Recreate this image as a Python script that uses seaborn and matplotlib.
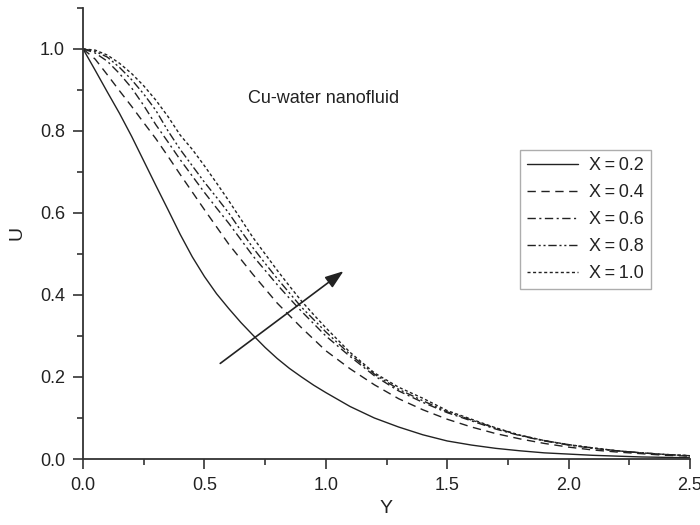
import matplotlib
matplotlib.use("Agg")
from matplotlib import pyplot as plt
from matplotlib.ticker import MultipleLocator, FormatStrFormatter
import seaborn as sns
import pandas as pd
import numpy as np

# ---------------------------------------------------------------
# data (U vs Y for several X)
# ---------------------------------------------------------------
y_vals = [0.0, 0.05, 0.1, 0.15, 0.2, 0.25, 0.3, 0.35, 0.4, 0.45, 0.5, 0.55,
          0.6, 0.65, 0.7, 0.75, 0.8, 0.85, 0.9, 0.95, 1.0, 1.1, 1.2,
          1.3, 1.4, 1.5, 1.6, 1.7, 1.8, 1.9, 2.0, 2.1, 2.2, 2.3, 2.4, 2.5]

u_x02 = [1.0, 0.948, 0.895, 0.843, 0.787, 0.727, 0.667, 0.608, 0.548, 0.493,
         0.445, 0.403, 0.367, 0.333, 0.302, 0.272, 0.245, 0.221, 0.2, 0.18,
         0.162, 0.128, 0.1, 0.078, 0.059, 0.044, 0.034, 0.026, 0.02, 0.015,
         0.012, 0.009, 0.007, 0.005, 0.004, 0.003]
u_x04 = [1.0, 0.975, 0.937, 0.898, 0.86, 0.82, 0.781, 0.738, 0.694, 0.651,
         0.608, 0.566, 0.524, 0.487, 0.45, 0.415, 0.38, 0.35, 0.32, 0.292,
         0.264, 0.22, 0.181, 0.147, 0.12, 0.097, 0.078, 0.062, 0.049, 0.038,
         0.029, 0.022, 0.017, 0.013, 0.009, 0.007]
u_x06 = [1.0, 0.99, 0.97, 0.94, 0.905, 0.862, 0.815, 0.773, 0.73, 0.69,
         0.65, 0.612, 0.575, 0.535, 0.495, 0.46, 0.425, 0.392, 0.36, 0.33,
         0.30, 0.25, 0.203, 0.166, 0.138, 0.113, 0.093, 0.073, 0.057, 0.044,
         0.034, 0.026, 0.02, 0.015, 0.011, 0.008]
u_x08 = [1.0, 0.994, 0.98, 0.955, 0.925, 0.89, 0.85, 0.8, 0.755, 0.715,
         0.675, 0.638, 0.60, 0.557, 0.515, 0.477, 0.44, 0.405, 0.37, 0.34,
         0.31, 0.255, 0.207, 0.17, 0.142, 0.115, 0.095, 0.075, 0.058, 0.045,
         0.035, 0.027, 0.02, 0.015, 0.011, 0.008]
u_x10 = [1.0, 0.997, 0.985, 0.965, 0.94, 0.91, 0.875, 0.835, 0.79, 0.755,
         0.715, 0.673, 0.63, 0.585, 0.54, 0.5, 0.46, 0.422, 0.385, 0.352,
         0.32, 0.26, 0.21, 0.175, 0.148, 0.118, 0.097, 0.076, 0.058, 0.045,
         0.035, 0.027, 0.02, 0.015, 0.011, 0.008]

labels = ["X\u2009=\u20090.2", "X\u2009=\u20090.4", "X\u2009=\u20090.6",
          "X\u2009=\u20090.8", "X\u2009=\u20091.0"]
series = [u_x02, u_x04, u_x06, u_x08, u_x10]

df = pd.concat([pd.DataFrame({"Y": y_vals, "U": s, "X": lab})
                for s, lab in zip(series, labels)], ignore_index=True)

# ---------------------------------------------------------------
# style
# ---------------------------------------------------------------
sns.set_style("ticks")
plt.rcParams["font.family"] = ["Liberation Sans", "DejaVu Sans"]
ink = "#222222"

fig, ax = plt.subplots(figsize=(7, 5.25), dpi=100)
fig.subplots_adjust(left=0.1186, right=0.9857, bottom=0.1257, top=0.985)

dash_list = ["", (6, 4), (6, 2.5, 1.5, 2.5), (6, 2, 1.5, 2, 1.5, 2), (2.2, 1.8)]
sns.lineplot(data=df, x="Y", y="U", style="X", dashes=dash_list,
             color=ink, linewidth=1.0, ax=ax, sort=False)

# arrow showing increasing X
ax.annotate("", xy=(1.082, 0.462), xytext=(0.556, 0.229),
            arrowprops=dict(arrowstyle="-|>,head_length=0.7,head_width=0.25",
                            color=ink, lw=1.2, mutation_scale=16))

ax.text(0.68, 0.88, "Cu-water nanofluid", fontsize=13, color=ink,
        va="center", ha="left")

# axes
ax.set_xlim(0, 2.5)
ax.set_ylim(0, 1.1)
ax.xaxis.set_major_locator(MultipleLocator(0.5))
ax.xaxis.set_minor_locator(MultipleLocator(0.25))
ax.yaxis.set_major_locator(MultipleLocator(0.2))
ax.yaxis.set_minor_locator(MultipleLocator(0.1))
ax.xaxis.set_major_formatter(FormatStrFormatter("%.1f"))
ax.yaxis.set_major_formatter(FormatStrFormatter("%.1f"))
ax.tick_params(which="major", direction="out", length=7, width=1.2,
               color="#333333", labelsize=13, labelcolor=ink, pad=6)
ax.tick_params(which="minor", direction="out", length=4, width=1.2,
               color="#333333")
for side in ["left", "bottom"]:
    ax.spines[side].set_linewidth(1.3)
    ax.spines[side].set_color("#333333")
sns.despine(ax=ax)

ax.set_xlabel("Y", fontsize=14, color=ink, labelpad=4)
ax.set_ylabel("U", fontsize=14, color=ink, labelpad=10)

leg = ax.legend(loc="upper left", bbox_to_anchor=(0.72, 0.685),
                fontsize=13, frameon=True, fancybox=False,
                handlelength=2.8, handletextpad=0.6, labelspacing=0.55,
                borderpad=0.4, borderaxespad=0.0)
leg.get_frame().set_edgecolor("#999999")
leg.get_frame().set_linewidth(1.0)
for t in leg.get_texts():
    t.set_color(ink)

fig.savefig("out.png", dpi=100)
